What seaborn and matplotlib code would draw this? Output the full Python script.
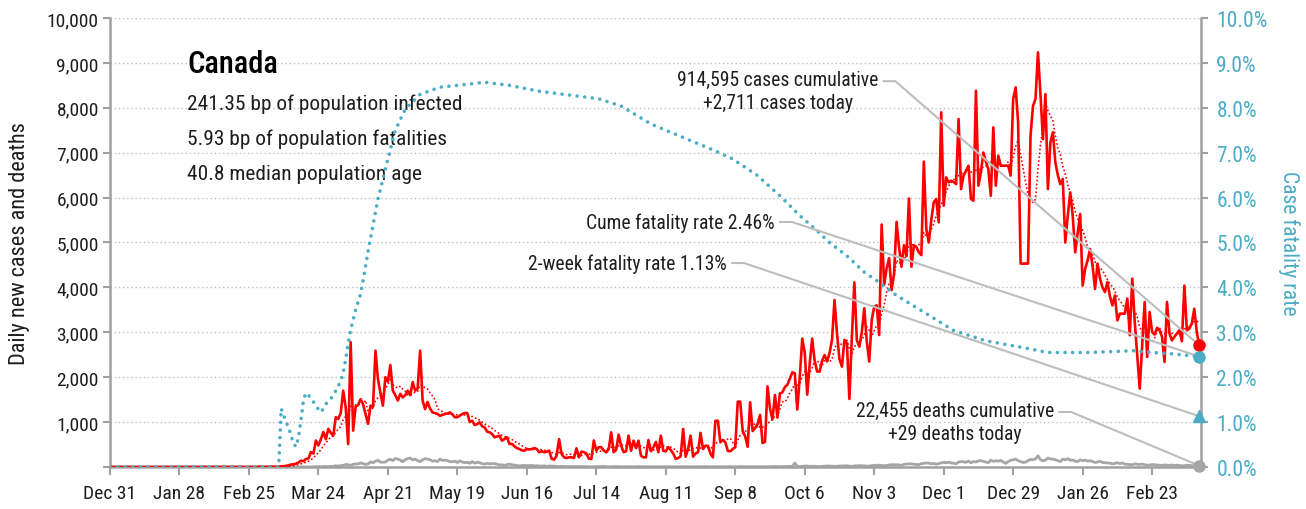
import numpy as np
import pandas as pd
import matplotlib
matplotlib.use("Agg")
import matplotlib.pyplot as plt
import matplotlib.dates as mdates
from matplotlib.lines import Line2D
from matplotlib.ticker import FuncFormatter, MultipleLocator
from matplotlib import font_manager
import seaborn as sns

START = "2019-12-31"

# ---- daily new cases (one value per day from Dec 31, 2019) ----
cases_dec_feb = [0] * 25 + [1, 0, 1, 0, 0, 0, 1] + [
    0, 0, 0, 0, 1, 1, 0, 0, 0, 0, 0, 0, 0, 1, 0, 0, 0, 0, 0, 1, 1, 0, 0, 1, 0, 1, 2, 0, 4]
cases_mar = [4, 3, 3, 3, 12, 3, 6, 6, 15, 16, 25, 38, 54, 60, 76, 100, 140, 130, 180, 190,
             330, 300, 590, 480, 620, 780, 620, 850, 760, 700, 1110]
cases_apr = [1070, 1200, 1700, 1330, 510, 2780, 810, 1340, 1380, 1510, 1400, 1180, 960, 1366,
             1340, 2590, 1960, 1650, 1365, 2000, 1900, 2270, 1700, 1600, 1480, 1630, 1550,
             1600, 1700, 1600]
cases_may = [1890, 1700, 1750, 2590, 1480, 1290, 1450, 1300, 1215, 1200, 1180, 1140, 1160,
             1180, 1190, 1215, 1170, 1105, 1110, 1143, 1180, 1202, 1200, 1000, 1030, 935, 955,
             995, 906, 880, 787]
cases_jun = [772, 735, 660, 680, 698, 585, 625, 660, 512, 515, 460, 420, 400, 370, 364, 400,
             390, 400, 420, 400, 327, 350, 327, 340, 364, 185, 163, 252, 620, 290]
cases_jul = [215, 200, 215, 215, 200, 415, 215, 341, 330, 300, 185, 178, 590, 364, 440, 440,
             365, 327, 400, 772, 330, 380, 720, 475, 330, 350, 698, 360, 586, 420, 586]
cases_aug = [250, 215, 215, 600, 350, 440, 560, 330, 698, 360, 350, 440, 380, 300, 180, 200,
             240, 847, 230, 400, 698, 230, 300, 330, 760, 400, 475, 470, 300, 215, 1030]
cases_sep = [1030, 550, 600, 550, 360, 350, 400, 440, 1455, 1455, 800, 680, 450, 1440, 800,
             870, 955, 1160, 535, 560, 1795, 1300, 1060, 1605, 1100, 1640, 1662, 1780, 1830,
             1970]
cases_oct = [2108, 2086, 1280, 2000, 2860, 2550, 1610, 2300, 2860, 2365, 2125, 2125, 2365,
             2495, 2350, 2535, 2830, 3720, 2975, 2400, 2235, 2830, 2755, 1515, 2900, 4110,
             2830, 2680, 3000, 3535, 2800]
cases_nov = [2350, 3275, 3570, 3600, 2940, 5400, 4055, 4425, 4650, 3940, 4300, 5460, 4900,
             4460, 4940, 4700, 5980, 4460, 4940, 4900, 4780, 4720, 6800, 5300, 5000, 5500,
             5895, 5970, 5450, 7900]
cases_dec = [5820, 6450, 6340, 6375, 6350, 6300, 7750, 6190, 6490, 6600, 6710, 5970, 5930,
             8380, 6265, 6560, 7005, 6800, 6635, 6040, 7565, 6265, 6935, 6710, 6710, 6710,
             6710, 6490, 8195, 8455, 7675]
cases_jan21 = [4530, 4530, 4530, 4530, 7380, 8045, 8195, 9235, 8305, 7300, 8305, 6190, 7230,
               7455, 6785, 6500, 6300, 6415, 5000, 5595, 6115, 5595, 4780, 5200, 5635, 4040,
               4410, 4600, 4855, 4485, 3965]
cases_feb21 = [4530, 4195, 4000, 3895, 4120, 3800, 3600, 3820, 3265, 3415, 3415, 3415, 3750,
               2935, 4195, 3230, 2500, 1745, 2710, 3675, 2450, 3450, 3005, 2950, 3100, 3045,
               2900, 2340]
cases_mar21 = [3675, 2970, 2820, 2900, 2970, 3045, 2800, 4040, 3045, 3080, 3200, 3525, 3005,
               2711]

# ---- daily new deaths ----
deaths_dec_feb = [0] * 61
deaths_mar = [0] * 8 + [1, 0, 0, 0, 0, 0, 0, 3, 2, 3, 0, 2, 1, 3, 4, 9, 2, 12, 8, 10, 15, 15, 27]
deaths_apr = [20, 30, 36, 55, 50, 35, 59, 68, 67, 90, 76, 55, 70, 110, 96, 127, 150, 108, 105,
              110, 152, 172, 143, 188, 176, 152, 118, 162, 188, 196]
deaths_may = [160, 175, 140, 120, 160, 186, 175, 160, 130, 140, 120, 175, 147, 152, 141, 120,
              115, 130, 100, 137, 110, 95, 105, 82, 120, 87, 105, 97, 70, 66, 80]
deaths_jun = [70, 76, 75, 62, 47, 50, 35, 52, 64, 48, 42, 35, 25, 33, 35, 30, 32, 35, 26, 28,
              22, 20, 25, 15, 22, 20, 18, 13, 10, 15]
deaths_jul = [10, 12, 8, 9, 10, 11, 6, 12, 10, 8, 5, 4, 6, 7, 10, 8, 12, 5, 4, 6, 9, 10, 6, 5,
              4, 7, 8, 5, 4, 6, 8]
deaths_aug = [5, 4, 6, 7, 4, 5, 3, 6, 4, 5, 7, 3, 4, 6, 5, 4, 8, 5, 6, 7, 4, 5, 3, 6, 5, 7, 8,
              6, 4, 5, 7]
deaths_sep = [4, 5, 6, 3, 7, 5, 4, 6, 5, 8, 6, 5, 4, 7, 9, 5, 6, 8, 7, 4, 6, 10, 8, 9, 7, 6, 9,
              12, 10, 14]
deaths_oct = [12, 90, 10, 8, 14, 20, 22, 12, 16, 18, 9, 10, 14, 20, 22, 21, 18, 14, 15, 20, 25,
              23, 28, 20, 15, 24, 28, 30, 27, 25, 21]
deaths_nov = [18, 30, 35, 40, 38, 32, 30, 28, 45, 50, 48, 52, 45, 35, 60, 65, 70, 68, 62, 55,
              50, 75, 80, 90, 85, 70, 80, 60, 75, 90]
deaths_dec = [100, 95, 105, 90, 85, 70, 110, 120, 115, 105, 130, 95, 120, 110, 135, 140, 125,
              110, 95, 150, 125, 140, 130, 145, 110, 80, 120, 150, 160, 175, 140]
deaths_jan21 = [120, 100, 110, 140, 170, 160, 180, 250, 160, 140, 150, 200, 180, 170, 165, 140,
                120, 175, 160, 185, 150, 155, 130, 120, 160, 140, 150, 130, 140, 120, 100]
deaths_feb21 = [110, 130, 100, 95, 90, 85, 70, 80, 95, 75, 90, 65, 60, 55, 50, 70, 60, 55, 65,
                50, 40, 45, 55, 50, 45, 40, 35, 45]
deaths_mar21 = [40, 35, 45, 30, 40, 35, 25, 30, 40, 35, 30, 25, 20, 29]

# ---- cumulative case fatality rate (%) ----
cfr_dates = ["2019-12-31", "2020-03-08", "2020-03-09", "2020-03-10", "2020-03-11",
             "2020-03-12", "2020-03-13", "2020-03-14", "2020-03-15", "2020-03-16",
             "2020-03-17", "2020-03-18", "2020-03-19", "2020-03-20", "2020-03-21",
             "2020-03-22", "2020-03-23", "2020-03-24", "2020-03-25", "2020-03-26",
             "2020-03-27", "2020-03-28", "2020-03-29", "2020-03-30", "2020-03-31",
             "2020-04-01", "2020-04-02", "2020-04-03", "2020-04-04", "2020-04-05",
             "2020-04-06", "2020-04-08", "2020-04-10", "2020-04-11", "2020-04-13",
             "2020-04-17", "2020-04-21", "2020-04-24", "2020-04-28", "2020-05-04",
             "2020-05-12", "2020-05-24", "2020-05-30", "2020-06-09", "2020-06-21",
             "2020-07-15", "2020-07-24", "2020-08-05", "2020-08-21", "2020-08-31",
             "2020-09-07", "2020-09-17", "2020-09-26", "2020-10-04", "2020-10-11",
             "2020-10-16", "2020-10-23", "2020-10-30", "2020-11-04", "2020-11-12",
             "2020-11-23", "2020-12-05", "2020-12-18", "2021-01-01", "2021-01-12",
             "2021-01-28", "2021-02-07", "2021-02-15", "2021-02-23", "2021-03-03",
             "2021-03-14"]
cfr_pct = [0.0, 0.0, 1.30, 1.15, 1.00, 0.88, 0.70, 0.52, 0.45, 0.67, 1.05, 1.50, 1.65, 1.60,
           1.52, 1.45, 1.38, 1.28, 1.22, 1.30, 1.40, 1.47, 1.52, 1.60, 1.70, 1.80, 1.92, 2.10,
           2.40, 2.75, 3.05, 3.50, 3.85, 4.15, 4.80, 5.97, 6.86, 7.50, 7.97, 8.30, 8.46, 8.53,
           8.57, 8.50, 8.37, 8.20, 8.04, 7.64, 7.27, 7.04, 6.86, 6.49, 6.04, 5.60, 5.26, 5.00,
           4.70, 4.34, 4.15, 3.82, 3.45, 3.04, 2.81, 2.67, 2.55, 2.55, 2.57, 2.59, 2.55, 2.52,
           2.46]
two_week_cfr_pct = 1.13

country = "Canada"
info_lines = ["241.35 bp of population infected",
              "5.93 bp of population fatalities",
              "40.8 median population age"]
cum_cases_label = "914,595 cases cumulative\n+2,711 cases today"
cum_deaths_label = "22,455 deaths cumulative\n+29 deaths today"
cume_cfr_label = "Cume fatality rate 2.46%"
two_week_label = "2-week fatality rate 1.13%"

# ---- assemble frames ----
cases = (cases_dec_feb + cases_mar + cases_apr + cases_may + cases_jun + cases_jul + cases_aug
         + cases_sep + cases_oct + cases_nov + cases_dec + cases_jan21 + cases_feb21
         + cases_mar21)
deaths = (deaths_dec_feb + deaths_mar + deaths_apr + deaths_may + deaths_jun + deaths_jul
          + deaths_aug + deaths_sep + deaths_oct + deaths_nov + deaths_dec + deaths_jan21
          + deaths_feb21 + deaths_mar21)
dates = pd.date_range(START, periods=len(cases), freq="D")
df = pd.DataFrame({"date": dates, "cases": cases, "deaths": deaths})
df["cases_7d"] = df["cases"].rolling(7, min_periods=1).mean()
cfr = pd.DataFrame({"date": pd.to_datetime(cfr_dates), "cfr": np.array(cfr_pct) / 100.0})

RED = "#FF0000"
TEAL = "#4BACC6"
GRAY = "#A6A6A6"
SPINE = "#A0A0A0"
GRID = "#BFBFBF"
LEADER = "#BDBDBD"
INK = "#1E1E1E"

sns.set_theme(style="white")

# pick a narrow sans face when one is installed
installed = {f.name for f in font_manager.fontManager.ttflist}
narrow_faces = [n for n in ("Roboto Condensed", "Liberation Sans Narrow", "Open Sans Condensed",
                            "DejaVu Sans Condensed") if n in installed]
have_narrow = bool(narrow_faces)
plt.rcParams["font.family"] = narrow_faces + ["Roboto", "DejaVu Sans"]
scale = 1.0 if have_narrow else 0.86

TICK_L = 14.0 * scale
TICK_X = 14.0 * scale
TICK_R = 15.5 * scale
NOTE = 14.1 * scale

fig = plt.figure(figsize=(13.06, 5.10), dpi=100)
ax = fig.add_axes([0.0842, 0.0824, 0.8354, 0.8803])

sns.lineplot(data=df, x="date", y="deaths", color=GRAY, lw=2.0, ax=ax, zorder=2)
sns.lineplot(data=df, x="date", y="cases_7d", color=RED, lw=1.4, ax=ax, zorder=3,
             linestyle=(0, (0.01, 2.0)), dash_capstyle="round")
sns.lineplot(data=df, x="date", y="cases", color=RED, lw=1.9, ax=ax, zorder=4)

ax.set_ylim(0, 10000)
x_end = pd.Timestamp(START) + pd.Timedelta(days=439.7)
ax.set_xlim(pd.Timestamp(START), x_end)
ax.yaxis.set_major_locator(MultipleLocator(1000))
ax.yaxis.set_major_formatter(FuncFormatter(lambda v, p: "" if v == 0 else f"{v:,.0f}"))
ax.set_xticks(pd.date_range(START, periods=16, freq="28D"))
ax.xaxis.set_major_formatter(FuncFormatter(
    lambda v, p: f"{mdates.num2date(v):%b} {mdates.num2date(v).day}"))
ax.yaxis.grid(True, color=GRID, linestyle=(0, (1, 2)), lw=1.0)
ax.xaxis.grid(False)
ax.set_xlabel("")
ax.set_ylabel("Daily new cases and deaths", fontsize=16 * scale, color=INK)
ax.yaxis.set_label_coords(-0.073, 0.5)
ax.tick_params(axis="y", left=True, direction="out", length=5, width=1.5, color=SPINE,
               labelsize=TICK_L, labelcolor=INK, pad=3)
ax.tick_params(axis="x", bottom=True, direction="out", length=6, width=1.5, color=SPINE,
               labelsize=TICK_X, labelcolor=INK, pad=6)
for side in ("top", "right"):
    ax.spines[side].set_visible(False)
for side in ("left", "bottom"):
    ax.spines[side].set_color(SPINE)
    ax.spines[side].set_linewidth(1.8)

ax2 = ax.twinx()
sns.lineplot(data=cfr, x="date", y="cfr", color=TEAL, lw=2.6, ax=ax2, zorder=2,
             linestyle=(0, (0.01, 2.1)), dash_capstyle="round")
ax2.set_ylim(0, 0.10)
ax2.set_xlim(pd.Timestamp(START), x_end)
ax2.yaxis.set_major_locator(MultipleLocator(0.01))
ax2.yaxis.set_major_formatter(FuncFormatter(lambda v, p: f"{v * 100:.1f}%"))
ax2.set_ylabel("Case fatality rate", fontsize=15.5 * scale, color=TEAL, rotation=-90,
               labelpad=23)
ax2.tick_params(axis="y", right=True, direction="out", length=5, width=1.5, color=SPINE,
                labelsize=TICK_R, labelcolor=TEAL, pad=6)
ax2.grid(False)
for side in ("top", "left", "bottom"):
    ax2.spines[side].set_visible(False)
ax2.spines["right"].set_color(SPINE)
ax2.spines["right"].set_linewidth(1.8)

# ---- headline block ----
ax.text(0.0706, 0.898, country, transform=ax.transAxes, fontsize=22 * scale, color="black",
        ha="left", va="center", fontweight="medium")
for i, line in enumerate(info_lines):
    ax.text(0.0706, 0.8107 - i * 0.079, line, transform=ax.transAxes, fontsize=15.4 * scale,
            color=INK, ha="left", va="center")

# ---- end-of-series callouts ----
last = df.iloc[-1]
t_cases = ax2.text(0.612, 0.837, cum_cases_label, transform=ax.transAxes, fontsize=NOTE,
                   color=INK, ha="center", va="center", multialignment="center", zorder=6,
                   linespacing=1.25)
t_cume = ax2.text(0.6095, 0.5457, cume_cfr_label, transform=ax.transAxes,
                  fontsize=NOTE, color=INK, ha="right", va="center", zorder=6)
t_two = ax2.text(0.5655, 0.4543, two_week_label, transform=ax.transAxes, fontsize=NOTE,
                 color=INK, ha="right", va="center", zorder=6)
t_deaths = ax2.text(0.7745, 0.1002, cum_deaths_label, transform=ax.transAxes,
                    fontsize=NOTE, color=INK, ha="center", va="center",
                    multialignment="center", zorder=6, linespacing=1.25)

fig.canvas.draw()
renderer = fig.canvas.get_renderer()


def leader(text_artist, target_disp, row_frac, stub):
    bb = text_artist.get_window_extent(renderer)
    x0 = bb.x1 + 5
    y0 = bb.y0 + row_frac * bb.height
    pts = np.array([[x0, y0], [x0 + stub, y0], list(target_disp)])
    pts = ax2.transData.inverted().transform(pts)
    ax2.add_line(Line2D(pts[:, 0], pts[:, 1], color=LEADER, lw=1.5, zorder=5,
                        clip_on=False))


x_last = mdates.date2num(last["date"])
p_cases = ax.transData.transform((x_last, last["cases"]))
p_deaths = ax.transData.transform((x_last, last["deaths"]))
p_cume = ax2.transData.transform((x_last, cfr["cfr"].iloc[-1]))
p_two = ax2.transData.transform((x_last, two_week_cfr_pct / 100.0))

leader(t_cases, p_cases, 0.74, 12)
leader(t_cume, p_cume, 0.5, 12)
leader(t_two, p_two, 0.5, 12)
leader(t_deaths, p_deaths, 0.74, 12)

ax2.plot([last["date"]], [last["cases"]], "o", color=RED, ms=8, transform=ax.transData,
         zorder=7, clip_on=False)
ax2.plot([last["date"]], [last["deaths"]], "o", color=GRAY, ms=8, transform=ax.transData,
         zorder=7, clip_on=False)
ax2.plot([last["date"]], [cfr["cfr"].iloc[-1]], "o", color=TEAL, ms=8, zorder=7,
         clip_on=False)
ax2.plot([last["date"]], [two_week_cfr_pct / 100.0], "^", color=TEAL, ms=9, zorder=7,
         clip_on=False)

fig.savefig("out.png", dpi=100)
